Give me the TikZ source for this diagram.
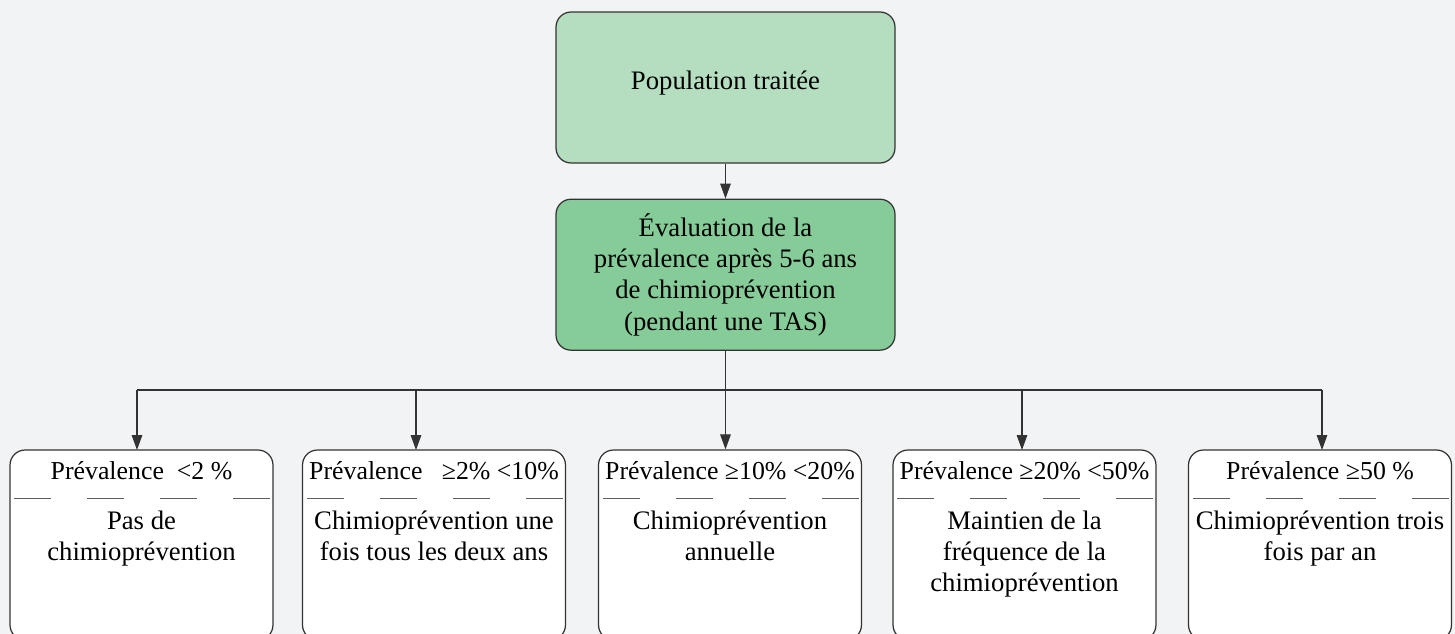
\documentclass[tikz,border=0pt]{standalone}
\usepackage{fontspec}
\setmainfont{Liberation Serif}
\usetikzlibrary{positioning,arrows.meta}
\definecolor{pagegray}{HTML}{F2F3F5}
\definecolor{lightgreen}{HTML}{B5DEC0}
\definecolor{midgreen}{HTML}{86CC99}
\definecolor{edgegray}{HTML}{333333}
\tikzset{
  greenbox/.style = {rectangle, rounded corners=0.3cm, draw=edgegray, line width=0.7pt,
    minimum width=6.78cm, minimum height=3.02cm, align=center, inner sep=0pt},
  levelbox/.style = {rectangle, rounded corners=0.3cm, draw=edgegray, fill=white, line width=0.7pt,
    minimum width=5.26cm, minimum height=3.8cm, inner sep=0pt},
  head/.style = {anchor=base, inner sep=0pt, font=\fontsize{14.7}{17.8}\selectfont},
  advice/.style = {anchor=north, align=center, inner sep=0pt},
  sepline/.style = {draw=edgegray!80, line width=0.5pt, dash pattern=on 0.74cm off 0.72cm},
  link/.style = {draw=edgegray, line width=0.6pt},
  arrow/.style = {link, -{Triangle[length=8.5pt,width=6pt]}}
}
\begin{document}
\begin{tikzpicture}[x=0.02cm, y=-0.02cm, font=\fontsize{15.2}{17.8}\selectfont]
  \clip (0,0) rectangle (1455,634);
  \fill[pagegray] (0,0) rectangle (1455,634);
  % upper part
  \node[greenbox, fill=lightgreen, text depth=0.3cm] (pop) at (725.5,87.5) {Population traitée};
  \node[greenbox, fill=midgreen, below=0.7cm of pop] (eval)
    {Évaluation de la\\prévalence après 5-6 ans\\de chimioprévention\\(pendant une TAS)};
  \draw[arrow] (pop) -- (eval);
  % prevalence levels
  \foreach \i/\cx/\lvl/\act in {
      1/141.5/{Prévalence~ <2 \%}/{Pas de\\chimioprévention},
      2/434/{Prévalence \ \ ≥2\% <10\%}/{Chimioprévention une\\fois tous les deux ans},
      3/730/{Prévalence ≥10\% <20\%}/{Chimioprévention\\annuelle},
      4/1024.5/{Prévalence ≥20\% <50\%}/{Maintien de la\\fréquence de la\\chimioprévention},
      5/1320/{Prévalence ≥50 \%}/{Chimioprévention trois\\fois par an}}
  {
    \node[levelbox] (b\i) at (\cx,545) {};
    \node[head] (h\i) at ([yshift=-0.6cm]b\i.north) {\lvl};
    \draw[sepline] ([shift={(5,49)}]b\i.north west) -- ([shift={(-2,49)}]b\i.north east);
    \node[advice] (a\i) at ([yshift=-1.22cm]b\i.north) {\act};
  }
  % connectors
  \coordinate (bus) at (725.5,390);
  \coordinate (t1) at (137,450);
  \coordinate (t2) at (416,450);
  \coordinate (t3) at (eval.south |- b3.north);
  \coordinate (t4) at (1022,450);
  \coordinate (t5) at (1322,450);
  \draw[arrow] (eval.south) -- (t3);
  \draw[link] (t1 |- bus) -- (t5 |- bus);
  \foreach \i in {1,2,4,5}
    \draw[arrow] (t\i |- bus) -- (t\i);
\end{tikzpicture}
\end{document}
